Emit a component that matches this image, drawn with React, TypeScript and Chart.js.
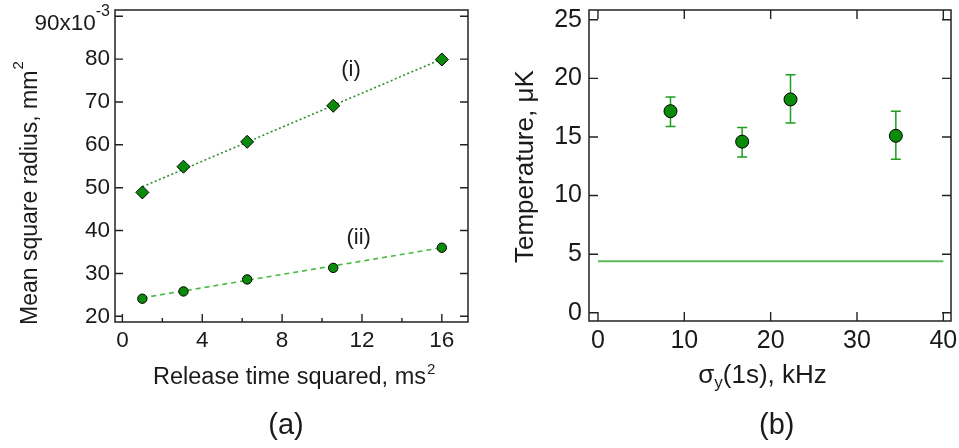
import React, { useEffect, useRef } from 'react';
import { Chart, registerables } from 'chart.js';

Chart.register(...registerables);

const FONT = "'Liberation Sans', Arial, Helvetica, sans-serif";
const INK = '#1a1a1a';
const FRAME = '#222222';
const FILL = '#0a8c0a';

// ---------- Panel (a) data ----------
const releaseTimeSq = [1, 3.06, 6.25, 10.56, 16];
const radiusI = [48.9, 54.9, 60.7, 69.1, 79.9];
const radiusII = [24.1, 25.8, 28.6, 31.3, 36.0];
const fitIX = [1, 16];
const fitIY = [50.2, 80.0];
const fitIIX = [1, 16];
const fitIIY = [24.3, 36.0];
const aXTicks = [0, 4, 8, 12, 16];
const aXMinorTicks = [2, 6, 10, 14];
const aYTicks = [20, 30, 40, 50, 60, 70, 80, 90];

// ---------- Panel (b) data ----------
const sigmaY = [8.4, 16.7, 22.3, 34.5];
const temperature = [17.2, 14.6, 18.2, 15.1];
const tempLow = [15.9, 13.3, 16.2, 13.1];
const tempHigh = [18.4, 15.8, 20.3, 17.2];
const refLineX = [0, 40];
const refLineY = [4.4, 4.4];
const bXTicks = [0, 10, 20, 30, 40];
const bYTicks = [0, 5, 10, 15, 20, 25];

type Part = { t: string; size: number; dy?: number; dx?: number };

function drawParts(
  ctx: CanvasRenderingContext2D,
  parts: Part[],
  x: number,
  y: number,
  align: 'left' | 'center' | 'right' = 'left',
  angle = 0
) {
  ctx.save();
  ctx.translate(x, y);
  if (angle) ctx.rotate(angle);
  ctx.textAlign = 'left';
  ctx.textBaseline = 'alphabetic';
  ctx.fillStyle = INK;
  let total = 0;
  for (const p of parts) {
    ctx.font = `${p.size}px ${FONT}`;
    total += ctx.measureText(p.t).width + (p.dx || 0);
  }
  let cx = align === 'left' ? 0 : align === 'center' ? -total / 2 : -total;
  for (const p of parts) {
    ctx.font = `${p.size}px ${FONT}`;
    cx += p.dx || 0;
    ctx.fillText(p.t, cx, p.dy || 0);
    cx += ctx.measureText(p.t).width;
  }
  ctx.restore();
}

function framePlugin(o: {
  id: string;
  xMajor: number[];
  xMinor: number[];
  yMajor: number[];
  topTicks: boolean;
  len: number;
  minorLen: number;
}) {
  return {
    id: o.id,
    afterDatasetsDraw(chart: any) {
      const { ctx, chartArea: a, scales } = chart;
      const x = scales.x;
      const y = scales.y;
      ctx.save();
      ctx.strokeStyle = FRAME;
      ctx.lineWidth = 1.5;
      ctx.strokeRect(a.left, a.top, a.right - a.left, a.bottom - a.top);
      ctx.lineWidth = 1.4;
      ctx.beginPath();
      for (const v of o.xMajor) {
        const px = x.getPixelForValue(v);
        ctx.moveTo(px, a.bottom);
        ctx.lineTo(px, a.bottom - o.len);
        if (o.topTicks) {
          ctx.moveTo(px, a.top);
          ctx.lineTo(px, a.top + o.len);
        }
      }
      for (const v of o.xMinor) {
        const px = x.getPixelForValue(v);
        ctx.moveTo(px, a.bottom);
        ctx.lineTo(px, a.bottom - o.minorLen);
      }
      for (const v of o.yMajor) {
        const py = y.getPixelForValue(v);
        ctx.moveTo(a.left, py);
        ctx.lineTo(a.left + o.len, py);
        ctx.moveTo(a.right, py);
        ctx.lineTo(a.right - o.len, py);
      }
      ctx.stroke();
      ctx.restore();
    },
  };
}

const textPluginA = {
  id: 'textA',
  afterDraw(chart: any) {
    const ctx = chart.ctx;
    drawParts(ctx, [{ t: 'Mean square radius, mm', size: 23 }, { t: '2', size: 15, dy: -14, dx: 1 }], 37, 325, 'left', -Math.PI / 2);
    drawParts(ctx, [{ t: 'Release time squared, ms', size: 23.5 }, { t: '2', size: 15, dy: -10, dx: 1 }], 153, 384);
    drawParts(ctx, [{ t: '90x10', size: 22.5 }, { t: '-3', size: 16, dy: -14 }], 110, 30, 'right');
    drawParts(ctx, [{ t: '(i)', size: 22 }], 351, 75.5, 'center');
    drawParts(ctx, [{ t: '(ii)', size: 22 }], 358.7, 243.7, 'center');
    drawParts(ctx, [{ t: '(a)', size: 29 }], 286, 434, 'center');
  },
};

const OFF_B = 480;
const textPluginB = {
  id: 'textB',
  afterDraw(chart: any) {
    const ctx = chart.ctx;
    drawParts(ctx, [{ t: 'Temperature, μK', size: 26 }], 533 - OFF_B, 263, 'left', -Math.PI / 2);
    drawParts(
      ctx,
      [
        { t: 'σ', size: 26 },
        { t: 'y', size: 17, dy: 5 },
        { t: '(1s), kHz', size: 26 },
      ],
      698.3 - OFF_B,
      383.3
    );
    drawParts(ctx, [{ t: '(b)', size: 29 }], 776.7 - OFF_B, 434, 'center');
  },
};

const errorBarPlugin = {
  id: 'errbars',
  beforeDatasetsDraw(chart: any) {
    const { ctx, scales } = chart;
    const x = scales.x;
    const y = scales.y;
    ctx.save();
    ctx.strokeStyle = '#1e9e1e';
    ctx.lineWidth = 1.5;
    ctx.beginPath();
    for (let i = 0; i < sigmaY.length; i++) {
      const px = x.getPixelForValue(sigmaY[i]);
      const pl = y.getPixelForValue(tempLow[i]);
      const ph = y.getPixelForValue(tempHigh[i]);
      ctx.moveTo(px, pl);
      ctx.lineTo(px, ph);
      ctx.moveTo(px - 5, pl);
      ctx.lineTo(px + 5, pl);
      ctx.moveTo(px - 5, ph);
      ctx.lineTo(px + 5, ph);
    }
    ctx.stroke();
    ctx.restore();
  },
};

function axisCommon(size: number, pad: number) {
  return {
    type: 'linear' as const,
    grid: { display: false, drawTicks: false },
    border: { display: false },
    ticks: {
      font: { family: FONT, size },
      color: INK,
      padding: pad,
      maxRotation: 0,
      autoSkip: false,
    },
  };
}

export default function App() {
  const refA = useRef<HTMLCanvasElement | null>(null);
  const refB = useRef<HTMLCanvasElement | null>(null);

  useEffect(() => {
    const chartA = new Chart(refA.current as HTMLCanvasElement, {
      type: 'scatter',
      data: {
        datasets: [
          {
            data: releaseTimeSq.map((x, i) => ({ x, y: radiusI[i] })),
            pointStyle: 'rectRot',
            pointRadius: 6.5,
            backgroundColor: FILL,
            borderColor: '#000',
            borderWidth: 1,
            showLine: false,
          },
          {
            data: releaseTimeSq.map((x, i) => ({ x, y: radiusII[i] })),
            pointStyle: 'circle',
            pointRadius: 4.7,
            backgroundColor: FILL,
            borderColor: '#000',
            borderWidth: 1,
            showLine: false,
          },
          {
            data: fitIX.map((x, i) => ({ x, y: fitIY[i] })),
            showLine: true,
            pointRadius: 0,
            borderColor: '#2f8f2f',
            borderWidth: 1.6,
            borderDash: [2, 2.5],
          },
          {
            data: fitIIX.map((x, i) => ({ x, y: fitIIY[i] })),
            showLine: true,
            pointRadius: 0,
            borderColor: '#44bb44',
            borderWidth: 1.6,
            borderDash: [5, 4],
          },
        ],
      },
      options: {
        animation: false,
        responsive: false,
        devicePixelRatio: 1,
        events: [],
        layout: { padding: { left: 0, right: 12, top: 10, bottom: 0 }, autoPadding: false },
        plugins: { legend: { display: false }, tooltip: { enabled: false } },
        scales: {
          x: {
            ...axisCommon(22.5, 5),
            min: -0.37,
            max: 17.31,
            afterBuildTicks: (s: any) => {
              s.ticks = aXTicks.map((v) => ({ value: v }));
            },
            afterFit: (s: any) => {
              s.height = 126;
              s.paddingLeft = 0;
              s.paddingRight = 0;
            },
          },
          y: {
            ...axisCommon(22.5, 5),
            min: 18.67,
            max: 91.45,
            ticks: {
              ...axisCommon(22.5, 5).ticks,
              callback: (v: any) => (v === 90 ? '' : String(v)),
            },
            afterBuildTicks: (s: any) => {
              s.ticks = aYTicks.map((v) => ({ value: v }));
            },
            afterFit: (s: any) => {
              s.width = 115;
              s.paddingTop = 0;
              s.paddingBottom = 0;
            },
          },
        },
      } as any,
      plugins: [
        framePlugin({ id: 'frameA', xMajor: aXTicks, xMinor: aXMinorTicks, yMajor: aYTicks, topTicks: false, len: 8, minorLen: 4 }),
        textPluginA,
      ],
    });

    const chartB = new Chart(refB.current as HTMLCanvasElement, {
      type: 'scatter',
      data: {
        datasets: [
          {
            data: sigmaY.map((x, i) => ({ x, y: temperature[i] })),
            pointStyle: 'circle',
            pointRadius: 6.5,
            backgroundColor: FILL,
            borderColor: '#000',
            borderWidth: 1,
            showLine: false,
          },
          {
            data: refLineX.map((x, i) => ({ x, y: refLineY[i] })),
            showLine: true,
            pointRadius: 0,
            borderColor: '#5cb85c',
            borderWidth: 2,
          },
        ],
      },
      options: {
        animation: false,
        responsive: false,
        devicePixelRatio: 1,
        events: [],
        layout: { padding: { left: 0, right: 8, top: 10, bottom: 0 }, autoPadding: false },
        plugins: { legend: { display: false }, tooltip: { enabled: false } },
        scales: {
          x: {
            ...axisCommon(25, 5),
            min: -1.04,
            max: 40.89,
            afterBuildTicks: (s: any) => {
              s.ticks = bXTicks.map((v) => ({ value: v }));
            },
            afterFit: (s: any) => {
              s.height = 127;
              s.paddingLeft = 0;
              s.paddingRight = 0;
            },
          },
          y: {
            ...axisCommon(25, 7),
            min: -0.7,
            max: 25.83,
            afterBuildTicks: (s: any) => {
              s.ticks = bYTicks.map((v) => ({ value: v }));
            },
            afterFit: (s: any) => {
              s.width = 109;
              s.paddingTop = 0;
              s.paddingBottom = 0;
            },
          },
        },
      } as any,
      plugins: [
        framePlugin({ id: 'frameB', xMajor: bXTicks, xMinor: [], yMajor: bYTicks, topTicks: true, len: 9, minorLen: 0 }),
        errorBarPlugin,
        textPluginB,
      ],
    });

    return () => {
      chartA.destroy();
      chartB.destroy();
    };
  }, []);

  return (
    <div style={{ position: 'fixed', left: 0, top: 0, width: 959, height: 448, background: '#fff' }}>
      <canvas ref={refA} width={480} height={448} style={{ position: 'absolute', left: 0, top: 0 }} />
      <canvas ref={refB} width={479} height={448} style={{ position: 'absolute', left: 480, top: 0 }} />
    </div>
  );
}
